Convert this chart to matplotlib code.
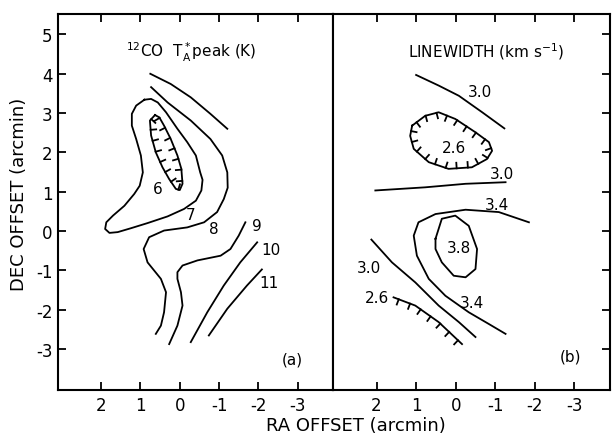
import matplotlib
matplotlib.use("Agg")
import matplotlib.pyplot as plt
import matplotlib.patheffects as pe

plt.rcParams["font.family"] = "DejaVu Sans"
plt.rcParams["mathtext.default"] = "regular"

# (a) 12CO peak antenna temperature contours, RA/Dec offsets in arcmin
peak_levels = [6, 7, 8, 9, 10, 11]
peak_6_x = [0.63, 0.76, 0.73, 0.61, 0.44, 0.27, 0.10, 0.00, -0.07, -0.04, 0.06, 0.23, 0.40, 0.52, 0.63]
peak_6_y = [2.95, 2.81, 2.43, 2.00, 1.62, 1.32, 1.07, 1.04, 1.20, 1.58, 1.92, 2.34, 2.68, 2.89, 2.95]
peak_7_x = [0.90, 1.11, 1.22, 1.22, 1.11, 0.99, 0.94, 1.02, 1.16, 1.41, 1.70, 1.87, 1.90, 1.79, 1.58,
            1.24, 0.82, 0.31, -0.11, -0.41, -0.55, -0.58, -0.52, -0.41, -0.19, 0.06, 0.35, 0.56, 0.73, 0.90]
peak_7_y = [3.34, 3.19, 2.98, 2.68, 2.34, 1.92, 1.49, 1.15, 0.94, 0.64, 0.39, 0.22, 0.05, -0.05, -0.03,
            0.07, 0.20, 0.37, 0.56, 0.77, 1.03, 1.30, 1.49, 1.92, 2.26, 2.60, 3.02, 3.27, 3.36, 3.34]
peak_8_x = [0.73, 0.31, -0.28, -0.78, -1.08, -1.21, -1.22, -1.12, -0.95, -0.62, -0.19, 0.40, 0.78,
            0.92, 0.82, 0.48, 0.35, 0.40, 0.48, 0.61]
peak_8_y = [3.66, 3.27, 2.81, 2.34, 1.92, 1.49, 1.10, 0.81, 0.48, 0.22, 0.09, 0.01, -0.16,
            -0.46, -0.80, -1.22, -1.56, -2.07, -2.41, -2.62]
peak_top_x = [0.75, 0.23, -0.28, -0.78, -1.21]
peak_top_y = [4.00, 3.74, 3.40, 2.98, 2.60]
peak_9_x = [0.27, 0.06, -0.07, -0.03, 0.06, 0.06, -0.07, -0.45, -1.04, -1.29, -1.50, -1.67]
peak_9_y = [-2.88, -2.41, -1.90, -1.56, -1.22, -1.05, -0.88, -0.75, -0.63, -0.46, -0.12, 0.22]
peak_10_x = [-0.28, -0.70, -1.12, -1.54, -1.97]
peak_10_y = [-2.83, -2.07, -1.39, -0.80, -0.29]
peak_11_x = [-0.74, -1.21, -1.71, -2.09]
peak_11_y = [-2.66, -1.98, -1.39, -0.98]

# (b) linewidth contours (km/s)
width_levels = [2.6, 3.0, 3.4, 3.8]
width_30a_x = [1.00, 0.43, -0.08, -0.67, -1.23]
width_30a_y = [3.97, 3.70, 3.44, 3.02, 2.61]
width_26a_x = [1.10, 0.77, 0.43, 0.01, -0.50, -0.84, -0.92, -0.79, -0.41, 0.18, 0.68, 1.06, 1.15, 1.10]
width_26a_y = [2.68, 2.93, 3.02, 2.85, 2.51, 2.26, 2.04, 1.83, 1.62, 1.58, 1.75, 2.09, 2.42, 2.68]
width_30b_x = [2.03, 0.77, -0.25, -1.26]
width_30b_y = [1.03, 1.11, 1.20, 1.24]
width_34_x = [-1.85, -1.09, -0.25, 0.51, 0.94, 1.06, 0.98, 0.68, 0.26, -0.33, -0.84, -1.26]
width_34_y = [0.22, 0.48, 0.54, 0.43, 0.22, -0.12, -0.63, -1.22, -1.65, -2.07, -2.37, -2.62]
width_38_x = [0.51, 0.35, 0.01, -0.33, -0.54, -0.50, -0.25, 0.05, 0.35, 0.51, 0.51]
width_38_y = [-0.20, 0.31, 0.39, 0.13, -0.46, -0.97, -1.18, -1.14, -0.80, -0.46, -0.20]
width_30c_x = [2.13, 1.61, 1.02, 0.43, -0.08, -0.50]
width_30c_y = [-0.22, -0.80, -1.31, -1.90, -2.32, -2.70]
width_26b_x = [1.57, 1.02, 0.43, -0.16]
width_26b_y = [-1.69, -1.90, -2.32, -2.88]

xticks = [2, 1, 0, -1, -2, -3]
yticks = [5, 4, 3, 2, 1, 0, -1, -2, -3]

fig = plt.figure(figsize=(6.13, 4.35), dpi=100)
ax1 = fig.add_axes([0.0946, 0.101, 0.4486, 0.8644])
ax2 = fig.add_axes([0.5432, 0.101, 0.452, 0.8644])

lw = 1.3
for ax in (ax1, ax2):
    ax.set_xlim(3.1, -3.9)
    ax.set_ylim(-4.05, 5.52)
    ax.set_xticks(xticks)
    ax.set_xticklabels([str(t) for t in xticks])
    ax.set_yticks(yticks)
    for s in ax.spines.values():
        s.set_linewidth(1.5)
    ax.tick_params(direction="in", length=6, width=1.3, top=True, labelsize=12, pad=4)

ax1.set_yticklabels([str(t) for t in yticks])
ax1.tick_params(right=False)
ax2.tick_params(left=False, right=True, labelleft=False)

# hatching on the low side of depression contours (side depends on path direction)
hatch_left = [pe.withTickedStroke(spacing=8, angle=90, length=0.5)]
hatch_right = [pe.withTickedStroke(spacing=8, angle=-90, length=0.5)]

# panel (a)
ax1.plot(peak_6_x, peak_6_y, color="black", lw=lw, path_effects=hatch_left)
for xs, ys in [(peak_7_x, peak_7_y), (peak_8_x, peak_8_y), (peak_top_x, peak_top_y),
               (peak_9_x, peak_9_y), (peak_10_x, peak_10_y), (peak_11_x, peak_11_y)]:
    ax1.plot(xs, ys, color="black", lw=lw, solid_joinstyle="round")

label_pos_a = [(0.56, 1.07), (-0.28, 0.43), (-0.87, 0.05), (-1.95, 0.14), (-2.32, -0.46), (-2.26, -1.31)]
for lev, (lx, ly) in zip(peak_levels, label_pos_a):
    ax1.text(lx, ly, f"{lev}", fontsize=11, ha="center", va="center")

ax1.text(-0.3, 4.58, r"$^{12}$CO  T$_A^*$peak (K)", fontsize=11, ha="center", va="center")
ax1.text(-2.86, -3.26, "(a)", fontsize=11, ha="center", va="center")

# panel (b)
ax2.plot(width_26a_x, width_26a_y, color="black", lw=lw, path_effects=hatch_right)
ax2.plot(width_26b_x, width_26b_y, color="black", lw=lw, path_effects=hatch_right)
for xs, ys in [(width_30a_x, width_30a_y), (width_30b_x, width_30b_y), (width_34_x, width_34_y),
               (width_38_x, width_38_y), (width_30c_x, width_30c_y)]:
    ax2.plot(xs, ys, color="black", lw=lw, solid_joinstyle="round")

fmt = "{:.1f}"
label_pos_b = [
    (width_levels[1], -0.62, 3.55), (width_levels[0], 0.05, 2.13), (width_levels[1], -1.17, 1.45),
    (width_levels[2], -1.05, 0.68), (width_levels[3], -0.08, -0.42), (width_levels[2], -0.41, -1.81),
    (width_levels[1], 2.2, -0.92), (width_levels[0], 2.0, -1.69),
]
for lev, lx, ly in label_pos_b:
    ax2.text(lx, ly, fmt.format(lev), fontsize=11, ha="center", va="center")

ax2.text(-0.76, 4.58, r"LINEWIDTH (km s$^{-1}$)", fontsize=11, ha="center", va="center")
ax2.text(-2.9, -3.18, "(b)", fontsize=11, ha="center", va="center")

fig.text(0.031, 0.554, "DEC OFFSET (arcmin)", rotation=90, fontsize=13, ha="center", va="center")
fig.text(0.58, 0.021, "RA OFFSET (arcmin)", fontsize=13, ha="center", va="center")

fig.savefig("out.png", dpi=100)
